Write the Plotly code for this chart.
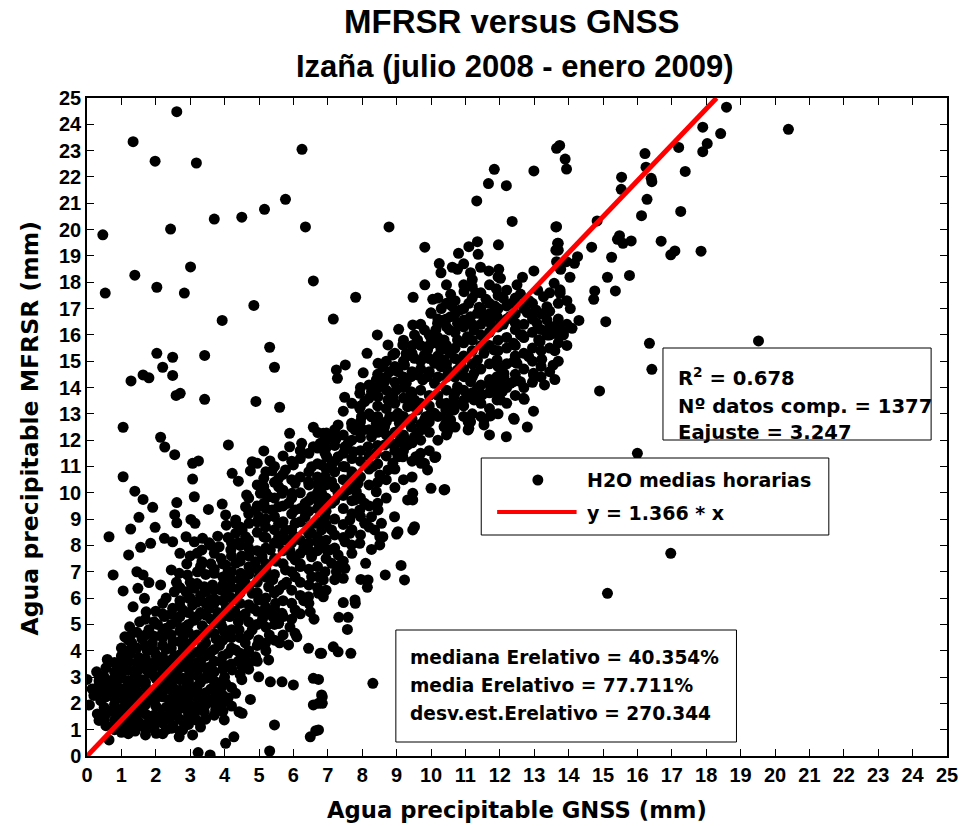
import plotly.graph_objects as go

# ---------------- data (GNSS mm, MFRSR mm) ----------------
pts_outliers_left = [
    (2.61,24.48),(1.34,23.34),(1.98,22.6),(3.18,22.53),(6.25,23.05),(5.77,21.15),(5.16,20.77),
    (4.5,20.47),(3.7,20.4),(2.43,20.02),(0.46,19.8),(6.35,20.1),(3.01,18.58),(1.39,18.27),
    (2.03,17.81),(0.53,17.59),(2.83,17.59),(6.58,18.05),(4.85,17.12),(3.93,16.55),(8.78,20.1),
    (7.81,17.43),(9.48,17.43),(7.16,16.6),(5.31,15.53),(5.45,14.77),(2.03,15.3),(2.49,15.15),
    (3.42,15.22),(2.2,14.77),(2.49,14.46),(1.63,14.48),(1.8,14.37),(1.28,14.25),(2.59,13.7),
    (2.71,13.78),(3.42,13.55),(4.91,13.47),(5.6,13.25),(1.05,12.49),(2.14,12.11),(2.26,11.74),
    (2.55,11.45),(4.11,11.82),(3.07,11.12),(3.24,11.21),(3.07,10.52),(1.05,10.61),(1.39,10.06),
    (1.63,9.75),(1.91,9.45),(1.51,9.07),(1.27,8.62),(0.64,8.33),(1.98,8.69),(2.61,9.63),
    (2.55,9.17),(2.61,8.86),(3.12,9.85),(3.02,8.99),(3.14,8.84),(3.53,9.37),(0.76,6.88),
    (1.05,6.27),(1.21,7.64),(1.56,7.93),(1.85,8.08),(1.45,7.0),(1.63,6.88),
]

pts_outliers_right = [
    (18.59,24.65),(20.39,23.81),(17.9,23.89),(18.42,23.65),(18.03,23.27),(17.9,22.96),(17.2,23.12),
    (17.39,22.21),(16.22,22.89),(16.25,22.37),(16.4,21.95),(16.42,21.82),(15.54,21.99),(15.53,21.53),
    (16.28,21.15),(16.12,20.53),(17.26,20.69),(14.83,20.33),(15.48,19.77),(15.42,19.63),(15.58,19.48),
    (15.82,19.57),(16.69,19.56),(16.97,19.04),(17.09,19.19),(17.85,19.18),(14.67,19.33),(15.25,18.95),
    (14.26,18.97),(14.17,18.72),(13.94,18.78),(13.75,18.53),(14.04,18.19),(15.13,18.19),(15.77,18.26),
    (14.76,17.67),(14.73,17.35),(15.36,17.67),(13.75,17.71),(13.75,17.58),(13.7,17.2),(13.65,20.11),
    (13.7,19.48),(13.7,19.22),(15.08,16.5),(16.35,15.68),(19.52,15.77),(16.42,14.69),(14.9,13.87),
    (16.0,11.5),(16.97,7.7),(15.13,6.18),(13.75,16.31),
]

pts_band_upper = [
    (13.65,23.09),(13.74,23.2),(13.9,22.68),(13.94,22.3),(11.84,22.29),(12.99,22.23),(11.67,21.75),
    (12.19,21.67),(11.33,21.09),(12.36,20.31),(13.63,20.1),(9.82,19.33),(11.96,19.42),(11.35,19.54),
    (11.37,19.06),(11.1,19.35),(10.8,19.1),(10.24,18.71),(10.29,18.36),(10.62,18.57),(10.77,18.49),
    (11.15,18.36),(11.44,18.57),(11.68,18.43),(11.97,18.49),(12.02,18.15),(12.99,18.43),(12.66,18.19),
    (9.82,17.9),(10.57,17.54),(10.05,17.35),(10.0,16.84),(10.96,17.64),(11.2,17.83),(13.65,18.78),
    (13.63,19.22),(13.68,19.48),(13.77,18.49),(13.58,17.96),(13.75,17.64),(13.27,17.45),(13.37,17.07),
    (10.6,17.1),(10.85,16.95),(11.1,17.2),(11.4,17.05),(11.6,17.35),(11.85,17.1),(12.1,17.4),
    (12.35,17.2),(12.6,17.55),(12.85,17.3),(13.1,17.7),(11.3,17.6),(11.9,17.75),(12.5,17.9),
    (12.8,16.85),(12.3,16.7),(13.05,16.95),(10.3,17.0),(10.45,16.6),(10.0,16.82),(10.19,16.44),
    (10.38,16.57),(10.57,16.69),(10.77,16.44),(10.96,16.57),(11.15,16.69),(11.35,16.82),(11.54,16.57),
    (11.73,16.44),(11.92,16.69),(12.6,16.0),(13.08,16.44),(13.37,16.57),(13.65,16.38),(13.85,16.0),
    (13.46,16.0),(13.17,15.74),(12.1,16.4),(12.45,16.45),(14.1,16.25),(14.3,16.55),(13.95,15.6),
    (13.6,15.4),(14.05,17.0),(13.55,14.85),
]

pts_band_mid = [
    (8.44,16.0),(9.06,16.21),(9.47,16.38),(9.52,16.0),(9.81,16.19),(8.14,15.3),(8.75,15.62),(8.89,15.24),
    (9.18,15.62),(9.28,15.3),(9.52,15.11),(9.81,15.24),(10.19,15.68),(10.29,15.43),(10.38,15.05),
    (10.29,14.79),(10.1,14.92),(10.48,14.67),(10.57,15.3),(7.51,14.86),(7.25,14.67),(7.28,14.35),
    (8.03,14.56),(8.46,14.92),(8.6,14.79),(8.8,14.6),(9.04,14.6),(9.23,14.86),(9.28,15.17),(9.61,14.48),
    (9.76,14.29),(9.9,14.41),(10.1,14.16),(8.41,14.29),(8.65,14.22),(8.99,13.91),(9.28,14.16),
    (9.42,13.84),(9.52,13.53),(7.93,13.78),(7.49,13.63),(8.27,13.84),(8.46,13.65),(8.75,13.53),
    (8.89,13.65),(8.07,13.46),(7.93,13.21),(7.98,12.89),(8.27,12.89),(8.41,12.64),(8.65,12.51),
    (8.8,12.89),(9.04,13.02),(9.23,12.77),(9.32,13.27),(9.37,13.53),(9.61,13.15),(9.81,12.77),
    (9.71,12.39),(9.52,12.13),(9.42,12.51),(10.0,13.02),(10.43,13.15),(10.43,12.64),(10.48,12.32),
    (10.67,13.15),(11.15,12.7),(11.1,12.45),(11.54,12.58),(11.54,12.77),(11.73,12.92),(10.67,13.65),
    (10.96,13.53),(11.25,13.65),(11.44,13.78),(10.77,14.03),(11.35,13.97),(11.15,14.22),(11.73,14.03),
    (11.92,13.84),(12.12,14.41),(12.31,14.16),(12.6,14.22),(12.69,13.59),(12.02,13.53),(10.86,14.92),
    (11.25,14.54),(10.96,14.41),(10.77,14.67),(11.35,15.05),(11.54,15.3),(11.83,15.43),(11.92,15.05),
    (12.4,14.98),(12.5,14.92),(12.84,15.17),(13.22,15.07),(12.98,14.54),(12.4,15.68),(12.64,16.0),
    (13.13,15.81),(13.37,16.0),(13.65,16.06),(11.54,16.69),(11.25,16.19),(11.06,15.93),(10.77,15.81),
    (10.38,15.81),(10.48,15.43),(10.0,15.87),(9.9,15.43),(10.53,16.19),(10.14,16.19),(9.61,15.81),
    (9.42,14.41),(9.18,14.29),(12.19,12.13),(12.4,12.83),(12.71,13.55),(12.42,12.79),(12.98,14.48),
    (13.41,16.0),(13.7,16.0),(13.85,16.12),(12.65,16.0),(10.11,11.34),(11.08,12.7),(11.08,12.39),
    (11.92,13.53),(12.07,13.84),(12.21,14.16),(12.4,14.22),(12.5,14.29),(11.92,14.41),(12.02,14.48),
    (12.12,14.54),(12.45,15.05),(6.87,12.26),(7.06,12.13),(6.78,11.88),(7.3,12.58),(7.25,12.07),
    (7.69,12.64),(7.79,12.39),(7.59,11.88),(7.74,11.56),(7.5,11.75),(8.03,12.39),(8.27,12.13),
    (8.17,11.75),(8.41,11.5),(8.65,11.82),(8.85,11.88),(9.08,11.94),(9.32,11.82),(9.04,11.37),
    (8.89,11.12),(8.75,10.87),(8.51,10.68),(8.31,11.0),(9.61,11.37),(9.81,11.12),(9.9,10.87),
    (10.14,11.37),(9.18,11.37),(9.56,11.37),(9.71,11.12),(9.08,12.64),(9.28,12.01),(9.61,12.26),
    (9.76,12.51),(9.85,12.89),(10.1,13.02),(10.29,13.4),(10.57,13.15),(10.57,12.77),(10.38,12.51),
    (10.48,12.39),(11.1,12.77),(11.25,13.53),(11.49,13.72),(11.06,13.65),(12.98,13.1),(13.3,14.1),
    (12.8,12.5),(13.6,14.3),(11.7,12.2),
]

pts_band_low = [
    (6.24,11.88),(5.89,12.26),(5.89,11.75),(6.58,12.49),(6.71,12.29),(6.58,11.75),(6.82,11.88),
    (6.96,12.27),(4.64,9.92),(5.04,9.98),(5.28,9.85),(5.14,10.23),(5.14,10.55),(5.57,10.55),
    (5.57,10.23),(5.67,9.98),(5.77,10.87),(6.0,11.06),(6.05,10.36),(5.96,9.98),(6.44,10.42),
    (6.73,10.23),(6.92,10.61),(6.53,10.99),(6.82,11.06),(6.97,11.37),(4.22,10.74),(4.4,10.44),
    (4.75,10.83),(4.8,11.18),(4.95,11.12),(5.14,11.59),(5.32,11.21),(5.38,10.84),
    (4.32,8.46),(4.61,8.33),(5.14,8.33),(5.57,8.33),(6.05,8.33),(6.53,8.46),(4.32,8.84),(4.51,8.59),
    (4.71,8.84),(4.99,9.09),(5.19,8.71),(5.57,8.84),(5.77,8.59),(6.05,8.84),(6.34,9.09),(6.63,8.84),
    (4.61,9.47),(4.9,9.35),(5.14,9.6),(5.38,9.35),(5.57,9.47),(5.86,9.6),(6.05,9.35),(6.34,9.6),
    (6.53,9.85),(6.73,9.67),(6.92,9.47),(3.93,9.57),(4.03,9.16),(4.05,8.77),(4.32,8.97),
    (6.92,11.5),(7.11,11.06),(6.92,10.61),(6.73,10.36),(7.11,10.42),(6.82,9.98),(7.11,9.6),
    (6.92,9.09),(7.11,8.59),(7.3,11.37),(7.5,10.99),(7.69,10.61),(7.88,10.36),(7.59,10.11),
    (7.3,9.98),(7.79,9.73),(8.07,9.6),(7.93,9.35),(7.64,8.97),(8.07,8.84),(8.27,9.09),(8.46,9.35),
    (8.56,8.84),(8.36,8.59),(8.6,8.33),(8.94,9.09),(9.04,8.52),(9.47,9.98),(9.47,9.73),(9.52,8.71),
    (10.0,10.17),(10.38,10.11),(10.4,10.13),(9.32,9.73),(7.83,10.04),(8.41,10.04),(9.0,8.43),
    (9.47,8.59),(8.1,7.32),(9.13,7.24),(8.67,6.88),(9.23,6.69),(7.96,6.71),(8.17,6.69),(8.15,6.41),
    (8.27,7.85),(8.51,8.02),(8.51,8.33),(7.93,8.08),(7.69,8.02),(7.5,8.14),(7.64,8.46),(7.06,7.83),
    (7.3,7.64),(7.11,7.32),(7.35,7.26),(7.25,7.0),(6.92,7.0),(7.5,7.13),(7.45,6.75),(6.78,6.24),
    (6.87,6.05),(6.73,6.81),(6.78,8.08),(6.82,8.59),(7.45,5.83),(7.79,5.93),(7.8,5.8),(7.32,5.27),
    (7.59,5.27),(7.57,4.81),(6.82,3.9),(7.16,4.15),(7.3,3.96),(7.67,3.9),(8.31,2.76),(6.84,2.25),
    (6.84,2.0),(6.73,0.99),(6.73,2.91),
    (2.45,7.07),(2.68,6.94),(2.92,6.88),(3.21,7.0),(3.34,7.38),(3.34,7.83),(3.7,7.7),(3.84,7.95),
    (4.18,7.83),(4.03,7.26),(4.32,7.32),(3.7,6.94),(2.25,8.27),(2.49,8.14),(2.88,8.33),(3.12,8.14),
    (3.36,8.27),(1.48,6.37),(1.67,5.99),(1.8,6.59),(2.14,6.5),(2.54,6.24),(2.88,6.24),(3.12,6.37),
    (3.41,6.43),(3.65,6.5),(2.3,6.0),(2.7,5.9),(3.0,6.0),(3.3,6.1),(3.6,5.95),(3.45,5.8),(3.74,5.93),
    (4.03,6.18),(4.42,6.37),(4.61,6.56),(4.8,6.18),(4.99,5.93),(5.28,6.43),(5.57,6.31),(5.48,5.8),
    (5.19,5.67),(5.67,5.42),(5.57,5.04),(6.05,5.55),(6.49,5.48),(4.2,6.0),(3.9,6.3),(4.2,6.7),
    (3.95,6.8),(4.47,6.94),(4.71,7.19),(4.9,7.38),(5.09,7.57),(5.33,7.83),(5.57,8.08),(5.77,8.21),
    (6.0,8.33),(6.44,8.46),(6.73,8.08),(6.97,7.83),(6.53,7.57),(6.05,7.45),(5.77,7.07),(6.05,6.81),
    (6.53,6.81),(6.87,6.69),(6.73,6.18),(6.44,6.05),(3.0,7.6),(2.7,7.7),(3.6,7.3),(4.5,7.6),
    (4.7,7.9),(4.4,8.1),(4.1,8.3),(3.8,8.35),(3.55,8.1),(5.5,7.4),(5.2,7.1),(5.0,6.8),(5.4,6.7),
    (5.8,6.6),(6.2,7.2),(6.3,7.9),(5.9,7.8),(2.6,6.6),(3.0,6.6),(3.3,7.2),(2.9,7.3),(3.2,7.7),
    (3.9,7.5),(4.1,7.0),(3.6,8.0),
    (6.05,4.66),(6.1,4.53),(5.86,4.22),(6.44,4.09),(6.78,3.9),(5.67,2.82),(6.0,2.7),(6.58,2.95),
    (5.33,2.82),(6.58,1.94),(6.73,2.0),(6.49,0.73),(6.65,0.96),(5.45,1.18),(5.31,0.19),(6.82,2.32),
    (4.8,4.79),(5.57,5.04),(5.3,4.6),(5.6,4.3),(5.9,4.9),(5.4,5.3),(6.3,5.9),(6.6,5.2),
]

pts_core = [
    (0.64,0.61),(1.0,0.9),(1.2,1.1),(1.4,0.95),(1.72,0.99),(2.01,0.86),(2.3,1.0),(2.68,0.73),
    (2.78,0.99),(3.07,0.8),(2.5,1.15),(1.85,1.2),(1.1,1.25),(0.85,1.15),(3.3,1.1),(3.12,1.56),
    (3.41,1.68),(3.45,2.13),(3.74,1.75),(3.93,2.0),(3.99,1.37),(4.03,0.48),(4.27,0.73),(3.23,0.13),
    (3.58,0.04),(0.07,1.94),(0.3,1.6),(0.5,1.4),(0.7,1.7),(0.9,1.5),(1.1,1.6),(1.3,1.45),(1.5,1.3),
    (1.6,1.7),(1.8,1.5),(2.0,1.35),(2.2,1.6),(2.4,1.4),(2.6,1.55),(2.8,1.3),(3.0,1.4),(2.9,1.8),
    (2.6,1.9),(2.3,1.85),(2.0,1.9),(1.7,1.95),(1.4,1.85),(1.1,1.9),(0.8,1.95),(0.5,1.85),(3.2,1.9),
    (0.2,2.3),(0.4,2.1),(0.6,2.4),(0.8,2.2),(1.0,2.35),(1.2,2.1),(1.4,2.3),(1.6,2.15),(1.8,2.4),
    (2.0,2.2),(2.2,2.45),(2.4,2.15),(2.6,2.35),(2.8,2.1),(3.0,2.3),(3.2,2.5),(3.4,2.35),(3.6,2.55),
    (0.3,2.6),(0.55,2.75),(0.9,2.6),(1.3,2.6),(1.7,2.65),(2.1,2.7),(2.5,2.6),(2.9,2.65),(3.3,2.8),
    (0.0,2.91),(0.28,3.2),(0.5,3.0),(0.75,2.9),(1.0,3.1),(1.2,2.85),(1.4,3.05),(1.6,2.9),(1.8,3.15),
    (2.0,2.95),(2.2,3.2),(2.4,2.9),(2.6,3.1),(2.8,2.95),(3.0,3.2),(3.2,3.05),(3.5,3.1),(3.7,2.85),
    (4.0,3.0),(4.03,2.76),(4.32,2.38),(4.22,3.27),(3.93,3.52),(0.59,3.67),(0.9,3.4),(1.15,3.45),
    (1.45,3.35),(1.7,3.5),(1.95,3.4),(2.25,3.55),(2.5,3.4),(2.75,3.6),(3.0,3.45),(3.3,3.6),(3.6,3.4),
    (1.0,3.8),(1.25,3.9),(1.5,3.75),(1.75,4.0),(2.0,3.85),(2.3,4.05),(2.55,3.8),(2.8,4.1),(3.05,3.9),
    (3.35,4.15),(3.6,3.95),(3.85,4.2),(1.3,4.3),(1.6,4.45),(1.9,4.3),(2.2,4.5),(2.5,4.35),(2.8,4.55),
    (3.1,4.4),(3.45,4.6),(3.75,4.45),(1.1,4.53),(1.24,4.53),(4.32,4.03),(4.51,3.39),(4.71,3.52),
    (4.61,3.77),(4.9,3.77),(4.99,3.01),(5.28,3.65),(1.24,4.91),(1.53,5.1),(1.8,4.8),(2.05,5.0),
    (2.3,4.85),(2.6,5.1),(2.85,4.9),(3.1,5.15),(3.35,4.95),(3.6,5.2),(3.9,5.0),(4.15,5.3),(4.4,5.1),
    (4.42,4.79),(4.99,4.41),(5.19,4.28),(1.34,5.67),(1.72,5.48),(2.0,5.5),(2.25,5.3),(2.49,5.61),
    (2.78,5.55),(3.07,5.74),(3.3,5.45),(3.55,5.6),(3.8,5.45),(4.05,5.65),(4.3,5.5),(4.6,5.4),
    (4.85,5.6),(5.1,5.2),(4.75,2.15),(4.51,1.62),(4.42,1.68),(3.8,2.4),(4.1,2.2),(4.2,1.9),(3.7,2.2),
    (3.9,2.6),(4.5,2.9),(4.4,3.6),(4.1,3.9),(4.2,4.5),(4.6,4.3),(4.0,4.7),(0.15,2.55),(0.35,2.85),
]

# additional points of the densely packed core (x 0.3-4)
pts_core_dense = [
    (0.35,1.35),(0.35,2.45),(0.35,3.05),(0.55,1.15),(0.55,1.6),(0.55,2.25),(0.55,2.55),(0.55,3.35),
    (0.8,1.0),(0.8,1.35),(0.8,1.75),(0.8,2.45),(0.8,2.75),(0.8,3.2),(0.8,3.55),
    (1.0,1.0),(1.0,1.45),(1.0,1.75),(1.0,2.2),(1.0,2.55),(1.0,2.95),(1.0,3.3),(1.0,3.6),(1.0,4.1),
    (1.2,0.85),(1.2,1.3),(1.2,1.7),(1.2,2.0),(1.2,2.4),(1.2,2.7),(1.2,3.25),(1.2,3.6),(1.2,4.0),(1.2,4.4),
    (1.45,1.1),(1.45,1.55),(1.45,2.0),(1.45,2.45),(1.45,2.75),(1.45,3.2),(1.45,3.55),(1.45,4.1),(1.45,4.7),
    (1.7,0.8),(1.7,1.2),(1.7,1.6),(1.7,2.05),(1.7,2.3),(1.7,2.8),(1.7,3.3),(1.7,3.7),(1.7,4.2),(1.7,4.6),(1.7,5.2),
    (1.95,1.05),(1.95,1.55),(1.95,2.1),(1.95,2.5),(1.95,3.05),(1.95,3.55),(1.95,4.0),(1.95,4.55),(1.95,5.1),
    (2.2,0.85),(2.2,1.25),(2.2,1.75),(2.2,2.25),(2.2,2.65),(2.2,3.0),(2.2,3.4),(2.2,3.75),(2.2,4.2),
    (2.2,4.7),(2.2,5.4),(2.2,5.8),(2.45,1.05),(2.45,1.65),(2.45,2.05),(2.45,2.5),(2.45,2.8),(2.45,3.25),
    (2.45,3.65),(2.45,4.1),(2.45,4.6),(2.45,5.0),(2.45,5.4),(2.7,0.95),(2.7,1.4),(2.7,1.8),(2.7,2.25),
    (2.7,2.5),(2.7,2.9),(2.7,3.35),(2.7,3.85),(2.7,4.35),(2.7,4.75),(2.7,5.3),(2.7,5.7),(2.7,6.4),
    (2.95,1.2),(2.95,1.6),(2.95,2.0),(2.95,2.45),(2.95,2.85),(2.95,3.3),(2.95,3.7),(2.95,4.25),
    (2.95,4.7),(2.95,5.0),(2.95,5.45),(2.95,6.0),(3.2,1.35),(3.2,1.75),(3.2,2.2),(3.2,2.65),(3.2,3.25),
    (3.2,3.55),(3.2,3.95),(3.2,4.6),(3.2,5.3),(3.2,5.85),(3.2,6.55),(3.45,1.4),(3.45,1.95),(3.45,2.4),
    (3.45,2.95),(3.45,3.35),(3.45,3.8),(3.45,4.3),(3.45,4.8),(3.45,5.35),(3.45,6.25),(3.45,6.9),
    (3.7,1.55),(3.7,2.0),(3.7,2.65),(3.7,3.2),(3.7,3.6),(3.7,4.05),(3.7,4.65),(3.7,5.05),(3.7,5.8),
    (3.7,6.3),(3.7,7.1),(3.95,1.7),(3.95,2.3),(3.95,2.85),(3.95,3.3),(3.95,3.8),(3.95,4.4),(3.95,4.85),
    (3.95,5.3),(3.95,5.9),(3.95,6.5),(3.95,7.3),
]

# additional points of the band along the fit line (x 4-14)
pts_band_dense = [
    (4.2,2.6),(4.2,3.5),(4.2,4.1),(4.2,4.8),(4.2,5.5),(4.2,6.4),(4.2,7.0),(4.2,7.6),(4.2,8.1),
    (4.45,3.1),(4.45,3.9),(4.45,4.5),(4.45,5.3),(4.45,5.8),(4.45,6.2),(4.45,6.7),(4.45,7.4),(4.45,8.0),(4.45,8.7),
    (4.7,3.3),(4.7,4.0),(4.7,4.6),(4.7,5.1),(4.7,5.75),(4.7,6.4),(4.7,6.9),(4.7,7.6),(4.7,8.2),(4.7,9.2),(4.7,9.8),
    (4.95,3.6),(4.95,4.2),(4.95,5.0),(4.95,5.5),(4.95,6.2),(4.95,6.6),(4.95,7.1),(4.95,7.8),(4.95,8.5),
    (4.95,8.9),(4.95,9.5),(4.95,10.3),(5.2,4.0),(5.2,4.9),(5.2,5.4),(5.2,6.0),(5.2,6.8),(5.2,7.3),
    (5.2,7.9),(5.2,8.3),(5.2,9.0),(5.2,9.4),(5.2,10.0),(5.2,10.8),(5.45,4.4),(5.45,5.0),(5.45,5.6),
    (5.45,6.2),(5.45,6.9),(5.45,7.5),(5.45,8.1),(5.45,8.6),(5.45,9.1),(5.45,9.8),(5.45,10.4),(5.45,11.0),
    (5.7,4.6),(5.7,5.3),(5.7,5.9),(5.7,6.5),(5.7,7.3),(5.7,7.8),(5.7,8.4),(5.7,8.9),(5.7,9.5),(5.7,10.1),
    (5.7,10.7),(5.7,11.4),(5.95,5.2),(5.95,5.8),(5.95,6.3),(5.95,7.0),(5.95,7.6),(5.95,8.1),(5.95,8.6),
    (5.95,9.2),(5.95,9.8),(5.95,10.5),(5.95,11.2),(6.2,5.4),(6.2,6.1),(6.2,6.6),(6.2,7.3),(6.2,7.7),
    (6.2,8.2),(6.2,8.9),(6.2,9.4),(6.2,10.0),(6.2,10.6),(6.2,11.3),(6.2,11.6),(6.45,5.8),(6.45,6.5),
    (6.45,7.1),(6.45,7.8),(6.45,8.1),(6.45,8.7),(6.45,9.3),(6.45,9.7),(6.45,10.3),(6.45,10.8),(6.45,11.5),
    (6.7,6.4),(6.7,7.2),(6.7,7.8),(6.7,8.3),(6.7,8.9),(6.7,9.4),(6.7,10.0),(6.7,10.6),(6.7,11.1),(6.7,11.7),
    (6.95,6.3),(6.95,7.5),(6.95,8.2),(6.95,8.8),(6.95,9.3),(6.95,9.8),(6.95,10.3),(6.95,10.9),(6.95,11.7),
    (6.95,12.0),(7.2,6.7),(7.2,7.9),(7.2,8.4),(7.2,9.0),(7.2,9.7),(7.2,10.2),(7.2,10.8),(7.2,11.2),
    (7.2,11.8),(7.2,12.4),(7.45,7.4),(7.45,8.3),(7.45,8.8),(7.45,9.4),(7.45,9.9),(7.45,10.5),(7.45,11.0),
    (7.45,11.5),(7.45,12.2),(7.45,13.1),(7.7,7.7),(7.7,8.6),(7.7,9.2),(7.7,9.7),(7.7,10.3),(7.7,10.8),
    (7.7,11.3),(7.7,12.0),(7.7,12.5),(7.7,13.4),(7.95,8.4),(7.95,9.1),(7.95,9.8),(7.95,10.6),(7.95,11.2),
    (7.95,11.6),(7.95,12.1),(7.95,12.7),(7.95,13.3),(7.95,14.0),(8.2,8.7),(8.2,9.5),(8.2,10.3),(8.2,10.9),
    (8.2,11.4),(8.2,12.4),(8.2,13.0),(8.2,13.6),(8.2,14.1),(8.45,9.6),(8.45,10.4),(8.45,11.1),(8.45,11.8),
    (8.45,12.3),(8.45,12.9),(8.45,13.3),(8.45,14.0),(8.45,14.5),(8.7,9.8),(8.7,10.5),(8.7,11.4),(8.7,12.2),
    (8.7,12.7),(8.7,13.2),(8.7,13.9),(8.7,14.4),(8.7,15.0),(8.95,10.2),(8.95,10.9),(8.95,11.6),(8.95,12.3),
    (8.95,12.9),(8.95,13.4),(8.95,14.2),(8.95,14.8),(8.95,15.3),(9.2,10.5),(9.2,11.6),(9.2,12.2),(9.2,12.9),
    (9.2,13.6),(9.2,14.0),(9.2,14.4),(9.2,15.0),(9.2,15.8),(9.45,10.6),(9.45,11.2),(9.45,11.9),(9.45,12.8),
    (9.45,13.3),(9.45,13.8),(9.45,14.6),(9.45,15.3),(9.45,15.6),(9.7,11.5),(9.7,12.0),(9.7,12.6),(9.7,13.4),
    (9.7,13.9),(9.7,14.7),(9.7,15.0),(9.7,15.6),(9.7,16.4),(9.95,11.6),(9.95,12.3),(9.95,12.7),(9.95,13.3),
    (9.95,13.7),(9.95,14.6),(9.95,15.1),(9.95,15.6),(9.95,16.0),(10.2,12.0),(10.2,12.9),(10.2,13.7),
    (10.2,14.4),(10.2,15.2),(10.2,15.9),(10.2,16.6),(10.2,17.4),(10.45,12.2),(10.45,12.9),(10.45,13.4),
    (10.45,13.9),(10.45,14.4),(10.45,14.9),(10.45,15.6),(10.45,16.3),(10.45,17.2),(10.45,17.9),
    (10.7,12.5),(10.7,13.4),(10.7,13.8),(10.7,14.4),(10.7,15.1),(10.7,15.5),(10.7,16.1),(10.7,16.8),
    (10.7,17.3),(10.95,12.9),(10.95,13.3),(10.95,13.9),(10.95,14.7),(10.95,15.2),(10.95,15.7),(10.95,16.3),
    (10.95,17.0),(10.95,17.9),(10.95,18.7),(11.2,13.0),(11.2,13.8),(11.2,14.4),(11.2,14.9),(11.2,15.4),
    (11.2,15.8),(11.2,16.4),(11.2,17.4),(11.2,18.1),(11.45,12.9),(11.45,13.4),(11.45,14.1),(11.45,14.7),
    (11.45,15.6),(11.45,16.0),(11.45,16.4),(11.45,17.0),(11.45,17.6),(11.7,13.2),(11.7,13.8),(11.7,14.3),
    (11.7,14.9),(11.7,15.6),(11.7,16.1),(11.7,16.8),(11.7,17.2),(11.7,17.9),(11.95,13.0),(11.95,14.1),
    (11.95,14.8),(11.95,15.4),(11.95,15.8),(11.95,16.3),(11.95,17.0),(11.95,17.5),(11.95,18.2),
    (12.2,13.4),(12.2,14.0),(12.2,14.9),(12.2,15.5),(12.2,15.9),(12.2,16.6),(12.2,17.1),(12.2,17.7),
    (12.45,13.7),(12.45,14.5),(12.45,15.2),(12.45,15.6),(12.45,16.2),(12.45,16.8),(12.45,17.4),
    (12.7,14.0),(12.7,14.7),(12.7,15.3),(12.7,15.9),(12.7,16.4),(12.7,17.0),(12.95,14.2),(12.95,15.0),
    (12.95,15.5),(12.95,16.1),(12.95,16.6),(12.95,17.2),(13.2,14.4),(13.2,14.8),(13.2,15.4),(13.2,16.2),
    (13.2,16.8),(13.45,14.6),(13.45,15.5),(13.45,16.3),(13.45,16.9),(13.45,17.6),(13.7,15.0),(13.7,15.7),
    (13.7,16.6),(13.95,16.4),(13.95,17.3),
]

slope = 1.366
x_ticks = list(range(0, 26))
y_ticks = list(range(0, 26))

all_pts = (pts_outliers_left + pts_outliers_right + pts_band_upper + pts_band_mid +
           pts_band_low + pts_core + pts_core_dense + pts_band_dense)
gnss = [p[0] for p in all_pts]
mfrsr = [p[1] for p in all_pts]

# ---------------- layout helpers (pixel -> paper) ----------------
L, R, T, B = 87, 953, 98, 756
W, H = 970, 826
def px(x):
    return (x - L) / (R - L)
def py(y):
    return (B - y) / (B - T)

BOLD_ARIAL = "Liberation Sans, Arial, sans-serif"
BOLD_WIDE = "DejaVu Sans, sans-serif"

fig = go.Figure()
fig.add_trace(go.Scatter(
    x=gnss, y=mfrsr, mode="markers",
    marker=dict(color="black", size=11, line=dict(width=0)),
    name="H2O medias horarias", showlegend=False, hoverinfo="skip"))
x_end = 25 / slope
fig.add_trace(go.Scatter(
    x=[0, x_end], y=[0, slope * x_end], mode="lines",
    line=dict(color="#ff0000", width=5), name="y = 1.366 * x", showlegend=False))

axis_common = dict(
    range=[0, 25], showgrid=False, zeroline=False, showline=True, linecolor="black",
    linewidth=1.5, mirror="ticks", ticks="inside", ticklen=7, tickwidth=1.2, tickcolor="black",
    tickfont=dict(family=BOLD_ARIAL, size=20, color="black", weight="bold"))
fig.update_xaxes(tickvals=x_ticks, ticktext=[str(v) for v in x_ticks], **axis_common)
fig.update_yaxes(tickvals=y_ticks, ticktext=[str(v) for v in y_ticks], **axis_common)

shapes = []
annotations = []
def box(x0, y0, x1, y1):
    shapes.append(dict(type="rect", xref="paper", yref="paper", x0=px(x0), x1=px(x1),
                       y0=py(y1), y1=py(y0), line=dict(color="black", width=1),
                       fillcolor="white", layer="above"))
def text(x, y, s, size=19, family=BOLD_WIDE, xanchor="left"):
    annotations.append(dict(xref="paper", yref="paper", x=px(x), y=py(y), text=s,
                            showarrow=False, xanchor=xanchor, yanchor="middle",
                            font=dict(family=family, size=size, color="black", weight="bold")))

# R2 box
box(667, 348, 937, 440)
text(680, 377, "R<sup>2</sup> = 0.678", size=19.6)
text(680, 406, "Nº datos comp. = 1377", size=19.6)
text(680, 432, "Eajuste = 3.247", size=19.6)

# legend box
box(484, 458, 834, 535)
shapes.append(dict(type="circle", xref="paper", yref="paper", x0=px(535.5), x1=px(546.5),
                   y0=py(485.5), y1=py(474.5), fillcolor="black", line=dict(width=0), layer="above"))
shapes.append(dict(type="line", xref="paper", yref="paper", x0=px(500), x1=px(580),
                   y0=py(512), y1=py(512), line=dict(color="#ff0000", width=4), layer="above"))
text(588, 480, "H2O medias horarias")
text(588, 513, "y = 1.366 * x")

# error box
box(398, 630, 741, 742)
text(410, 657, "mediana Erelativo = 40.354%", size=18.6)
text(410, 685, "media Erelativo = 77.711%", size=18.6)
text(410, 713, "desv.est.Erelativo = 270.344", size=18.6)

# titles
text(515, 22, "MFRSR versus GNSS", size=33, family=BOLD_ARIAL, xanchor="center")
text(518, 66, "Izaña (julio 2008 - enero 2009)", size=31, family=BOLD_ARIAL, xanchor="center")
text(520, 810, "Agua precipitable GNSS (mm)", size=22.7, family=BOLD_WIDE, xanchor="center")
annotations.append(dict(xref="paper", yref="paper", x=px(30), y=py(428),
                        text="Agua precipitable MFRSR (mm)", textangle=-90, showarrow=False,
                        xanchor="center", yanchor="middle",
                        font=dict(family=BOLD_WIDE, size=23.5, color="black", weight="bold")))

fig.update_layout(
    width=W, height=H, margin=dict(l=L, r=W - R, t=T, b=H - B),
    paper_bgcolor="white", plot_bgcolor="white", showlegend=False,
    shapes=shapes, annotations=annotations)

fig.write_html("out.html")
